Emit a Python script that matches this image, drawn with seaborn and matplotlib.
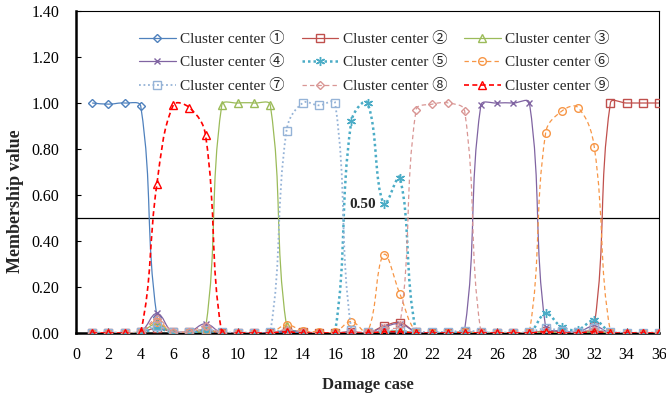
import numpy as np
import pandas as pd
import seaborn as sns
import matplotlib.pyplot as plt
from matplotlib.path import Path
from matplotlib.patches import PathPatch
from matplotlib.lines import Line2D

# damage cases 1..36, membership value of each cluster center
cases = list(range(1, 37))
c1 = [1.00, 0.995, 1.00, 0.985, 0.07, 0.00, 0.00, 0.015, 0.00, 0.00, 0.00, 0.00,
      0.005, 0.00, 0.00, 0.00, 0.00, 0.00, 0.005, 0.005, 0.00, 0.00, 0.00, 0.00,
      0.00, 0.00, 0.00, 0.00, 0.005, 0.00, 0.00, 0.01, 0.00, 0.00, 0.00, 0.00]
c2 = [0.00, 0.00, 0.00, 0.005, 0.02, 0.005, 0.005, 0.01, 0.00, 0.00, 0.00, 0.00,
      0.01, 0.005, 0.00, 0.00, 0.005, 0.00, 0.03, 0.045, 0.005, 0.00, 0.00, 0.005,
      0.00, 0.00, 0.00, 0.00, 0.01, 0.005, 0.00, 0.03, 1.00, 1.00, 1.00, 1.00]
c3 = [0.00, 0.00, 0.00, 0.005, 0.04, 0.00, 0.005, 0.02, 0.99, 1.00, 1.00, 0.99,
      0.03, 0.005, 0.00, 0.00, 0.00, 0.00, 0.005, 0.01, 0.00, 0.00, 0.00, 0.00,
      0.00, 0.00, 0.00, 0.00, 0.005, 0.00, 0.00, 0.005, 0.00, 0.00, 0.00, 0.00]
c4 = [0.00, 0.00, 0.00, 0.005, 0.085, 0.00, 0.005, 0.04, 0.00, 0.00, 0.00, 0.00,
      0.01, 0.005, 0.00, 0.00, 0.005, 0.00, 0.025, 0.04, 0.005, 0.00, 0.00, 0.015,
      0.99, 1.00, 1.00, 1.00, 0.025, 0.01, 0.005, 0.03, 0.00, 0.00, 0.00, 0.00]
c5 = [0.00, 0.00, 0.00, 0.00, 0.02, 0.00, 0.00, 0.01, 0.00, 0.00, 0.00, 0.00,
      0.01, 0.00, 0.00, 0.005, 0.92, 1.00, 0.56, 0.675, 0.005, 0.00, 0.00, 0.00,
      0.00, 0.00, 0.00, 0.00, 0.085, 0.025, 0.015, 0.055, 0.005, 0.00, 0.00, 0.00]
c6 = [0.00, 0.00, 0.00, 0.005, 0.05, 0.00, 0.005, 0.015, 0.00, 0.00, 0.00, 0.00,
      0.035, 0.01, 0.005, 0.005, 0.05, 0.005, 0.34, 0.17, 0.005, 0.00, 0.00, 0.005,
      0.00, 0.00, 0.00, 0.005, 0.87, 0.965, 0.98, 0.81, 0.005, 0.00, 0.00, 0.00]
c7 = [0.00, 0.00, 0.00, 0.005, 0.03, 0.005, 0.005, 0.015, 0.005, 0.00, 0.00, 0.005,
      0.88, 1.00, 0.99, 1.00, 0.015, 0.005, 0.01, 0.01, 0.005, 0.005, 0.005, 0.01,
      0.005, 0.00, 0.00, 0.005, 0.02, 0.01, 0.005, 0.02, 0.005, 0.00, 0.00, 0.00]
c8 = [0.00, 0.00, 0.00, 0.005, 0.06, 0.005, 0.005, 0.03, 0.00, 0.00, 0.00, 0.00,
      0.015, 0.005, 0.00, 0.00, 0.005, 0.005, 0.02, 0.035, 0.97, 0.995, 1.00, 0.965,
      0.005, 0.00, 0.00, 0.00, 0.005, 0.00, 0.00, 0.015, 0.00, 0.00, 0.00, 0.00]
c9 = [0.00, 0.00, 0.00, 0.005, 0.65, 0.99, 0.98, 0.86, 0.00, 0.00, 0.00, 0.00,
      0.005, 0.00, 0.00, 0.00, 0.00, 0.00, 0.005, 0.005, 0.00, 0.00, 0.00, 0.00,
      0.00, 0.00, 0.00, 0.00, 0.005, 0.00, 0.00, 0.005, 0.00, 0.00, 0.00, 0.00]
series = [c1, c2, c3, c4, c5, c6, c7, c8, c9]
names = ["Cluster center ①", "Cluster center ②", "Cluster center ③",
         "Cluster center ④", "Cluster center ⑤", "Cluster center ⑥",
         "Cluster center ⑦", "Cluster center ⑧", "Cluster center ⑨"]
threshold = 0.5

colors = ["#4F81BD", "#C0504D", "#9BBB59", "#8064A2", "#4BACC6",
          "#F79646", "#95B3D7", "#D99694", "#FF0000"]
mks = ["D", "s", "^", "x", (6, 2, 0), "o", "s", "D", "^"]
msz = [4.5, 5.5, 5.5, 5.0, 6.5, 5.5, 5.5, 4.5, 5.5]
lss = ["-", "-", "-", "-", (0, (1, 1.2)), (0, (3.5, 2.5)), (0, (1, 1.5)), (0, (3.5, 2.5)), (0, (3, 2))]
lws = [0.9, 0.9, 0.9, 0.9, 1.8, 0.9, 1.3, 0.9, 1.2]

sns.set_theme(style="white")
plt.rcParams['font.family'] = ['Liberation Serif', 'Noto Sans CJK JP', 'DejaVu Sans']

fig = plt.figure(figsize=(6.66, 3.96), dpi=100)
ax = fig.add_axes([76/666, 1-333/396, 583/666, 322/396])
ax.set_xlim(0, 36)
ax.set_ylim(0, 1.4)


# smooth curve like excel "smoothed line" (bezier through the points)
def smooth_path(xs, ys, t=0.4):
    pts = ax.transData.transform(np.column_stack([xs, ys]))
    n = len(pts)
    verts = [pts[0]]
    codes = [Path.MOVETO]
    for i in range(n - 1):
        p0 = pts[i - 1] if i > 0 else pts[i]
        p1 = pts[i]
        p2 = pts[i + 1]
        p3 = pts[i + 2] if i + 2 < n else pts[i + 1]
        d01 = np.hypot(*(p1 - p0))
        d12 = np.hypot(*(p2 - p1))
        d23 = np.hypot(*(p3 - p2))
        fa = t * d12 / (d01 + d12) if d01 + d12 > 0 else 0
        fb = t * d12 / (d12 + d23) if d12 + d23 > 0 else 0
        verts += [p1 + fa * (p2 - p0), p2 - fb * (p3 - p1), p2]
        codes += [Path.CURVE4] * 3
    verts = ax.transData.inverted().transform(np.array(verts))
    return Path(verts, codes)


for k, vals in enumerate(series):
    patch = PathPatch(smooth_path(cases, vals), facecolor="none", edgecolor=colors[k],
                      linestyle=lss[k], linewidth=lws[k], zorder=3 + k * 0.1)
    ax.add_patch(patch)
    sns.lineplot(x=cases, y=vals, ax=ax, linestyle="none", marker=mks[k], ms=msz[k],
                 mfc="none", mec=colors[k], mew=1.0, legend=False, zorder=3.05 + k * 0.1)

ax.axhline(threshold, color="black", lw=0.9, zorder=2)
ax.text(16.9, 0.56, f"{threshold:.2f}", fontsize=11, fontweight="bold", va="center", ha="left")

ax.set_xlim(0, 36)
ax.set_ylim(0, 1.4)
ax.set_xticks(range(0, 37, 2))
ax.set_yticks(np.arange(0, 1.41, 0.2))
ax.set_yticklabels([f"{v:.2f}" for v in np.arange(0, 1.41, 0.2)])
ax.tick_params(direction="in", length=3.5, width=0.8, labelsize=11.5, color="black",
               labelcolor="black", left=True, bottom=True)
ax.tick_params(axis="y", pad=12)
ax.tick_params(axis="x", pad=10)
for s in ["top", "right"]:
    ax.spines[s].set_linewidth(0.8)
    ax.spines[s].set_color("black")
for s in ["left", "bottom"]:
    ax.spines[s].set_linewidth(1.8)
    ax.spines[s].set_color("black")
ax.grid(False)

ax.set_xlabel("Damage case", fontsize=12, fontweight="bold")
ax.set_ylabel("Membership value", fontsize=13, fontweight="bold")
ax.xaxis.set_label_coords(0.5, -0.138)
ax.yaxis.set_label_coords(-0.09, 0.41)

handles = [Line2D([], [], color=colors[k], ls=lss[k], lw=lws[k], marker=mks[k], ms=msz[k],
                  mfc="none", mec=colors[k]) for k in range(9)]
order = [0, 3, 6, 1, 4, 7, 2, 5, 8]
ax.legend([handles[i] for i in order], [names[i] for i in order], ncol=3, loc="upper left",
          bbox_to_anchor=(139/666, 1 - 32/396), bbox_transform=fig.transFigure,
          frameon=False, fontsize=11, handlelength=2.4, handletextpad=0.3,
          columnspacing=1.1, labelspacing=0.62, borderpad=0, borderaxespad=0)

fig.savefig("out.png", dpi=100)
